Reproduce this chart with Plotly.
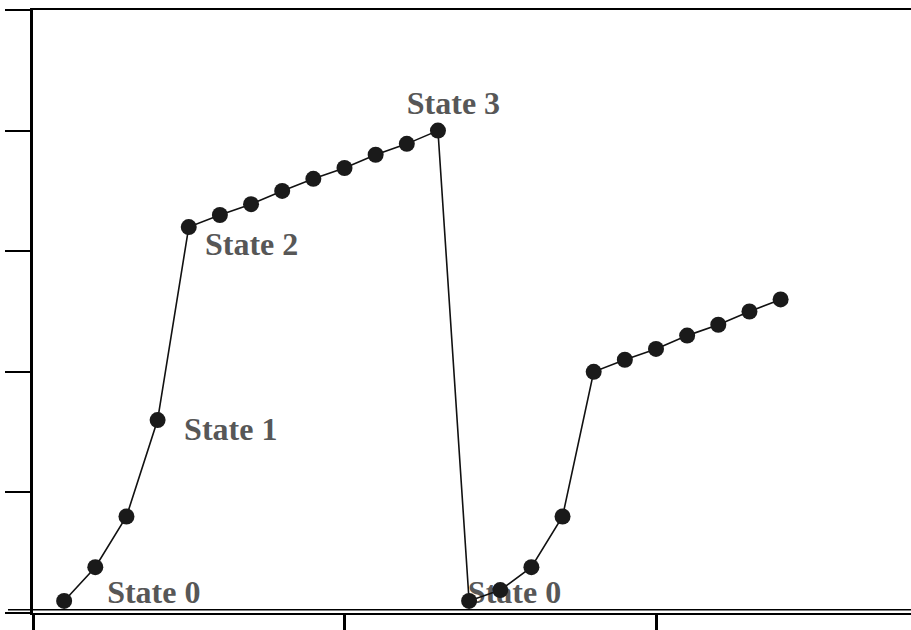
import plotly.graph_objects as go

# Data (x in axis units, y in axis units)
x_vals = [0.1, 0.2, 0.3, 0.4, 0.5, 0.6, 0.7, 0.8, 0.9, 1.0, 1.1, 1.2, 1.3,
          1.4, 1.5, 1.6, 1.7, 1.8, 1.9, 2.0, 2.1, 2.2, 2.3, 2.4]
y_vals = [0.10, 0.38, 0.80, 1.60, 3.20, 3.30, 3.39, 3.50, 3.60, 3.69, 3.80, 3.89, 4.00,
          0.10, 0.19, 0.38, 0.80, 2.00, 2.10, 2.19, 2.30, 2.39, 2.50, 2.60]

label_text = ["State 0", "State 1", "State 2", "State 3", "State 0"]
label_x = [0.238, 0.485, 0.552, 1.200, 1.396]
label_y = [0.153, 1.497, 3.034, 4.202, 0.153]

x_ticks = [0, 1, 2]
y_ticks = [0, 1, 2, 3, 4, 5]

fig = go.Figure()
# labels first so the markers are drawn on top of them
fig.add_trace(go.Scatter(
    x=label_x, y=label_y, mode="text",
    text=["<b>" + t + "</b>" for t in label_text],
    textposition="middle right",
    textfont=dict(family="Liberation Serif", size=32, color="#575757"),
    showlegend=False, hoverinfo="skip", cliponaxis=False))

fig.add_trace(go.Scatter(
    x=x_vals, y=y_vals, mode="lines+markers",
    line=dict(color="#111111", width=1.6),
    marker=dict(color="#1a1a1a", size=16),
    showlegend=False, hoverinfo="skip"))

# second bottom rule (double line)
fig.add_shape(type="line", xref="paper", yref="y", x0=-0.0285, x1=1, y0=0.027, y1=0.027,
              line=dict(color="black", width=1.5))

fig.update_layout(
    width=911, height=630,
    margin=dict(l=33, r=0, t=10, b=17),
    plot_bgcolor="white", paper_bgcolor="white",
    xaxis=dict(range=[0, 2.8186], tickvals=x_ticks, showticklabels=False,
               ticks="outside", ticklen=17, tickwidth=2.5, tickcolor="black",
               showline=True, mirror=True, linecolor="black", linewidth=1.8,
               showgrid=False, zeroline=False),
    yaxis=dict(range=[0, 5], tickvals=y_ticks, showticklabels=False,
               ticks="outside", ticklen=25, tickwidth=1.5, tickcolor="black",
               showline=True, linecolor="black", linewidth=2.5,
               showgrid=False, zeroline=False),
)

fig.write_html("out.html",
               config={"displayModeBar": False},
               post_script="document.body.style.margin='0';document.body.style.overflow='hidden';")
